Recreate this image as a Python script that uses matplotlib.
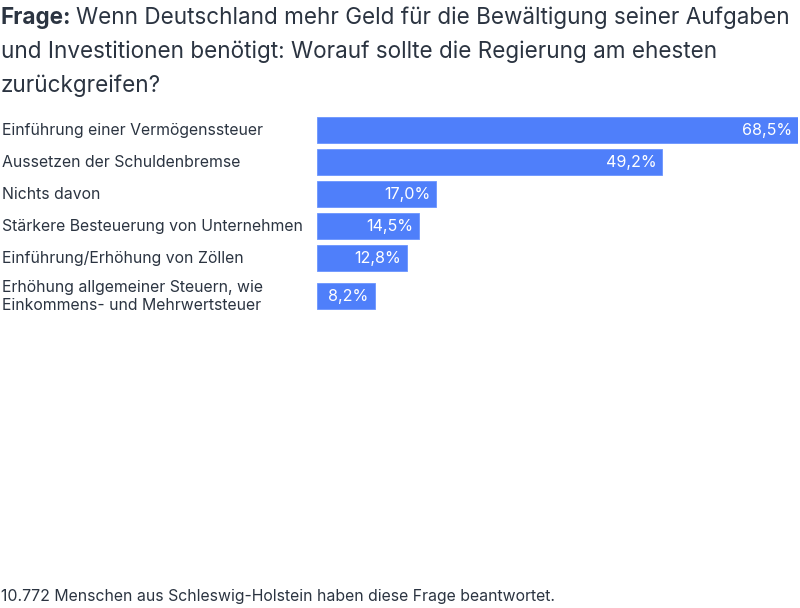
import matplotlib
matplotlib.use("Agg")
import matplotlib.pyplot as plt
from matplotlib.transforms import blended_transform_factory

plt.rcParams['font.family'] = ['Inter', 'DejaVu Sans']

categories = [
    "Einführung einer Vermögenssteuer",
    "Aussetzen der Schuldenbremse",
    "Nichts davon",
    "Stärkere Besteuerung von Unternehmen",
    "Einführung/Erhöhung von Zöllen",
    "Erhöhung allgemeiner Steuern, wie\nEinkommens- und Mehrwertsteuer",
]
values = [68.5, 49.2, 17.0, 14.5, 12.8, 8.2]
value_labels = ["68,5%", "49,2%", "17,0%", "14,5%", "12,8%", "8,2%"]

title_bold = "Frage:"
title_lines = [
    "Wenn Deutschland mehr Geld für die Bewältigung seiner Aufgaben",
    "und Investitionen benötigt: Worauf sollte die Regierung am ehesten",
    "zurückgreifen?",
]
footer = "10.772 Menschen aus Schleswig-Holstein haben diese Frage beantwortet."

W, H = 800, 608
text_col = "#2b3441"
bar_col = "#4f7ffa"

fig = plt.figure(figsize=(W / 100, H / 100), dpi=100)
fig.patch.set_facecolor("white")

# axes laid out in pixel units (y grows downward)
ax_top, ax_bot = 110, 320
ax = fig.add_axes([317 / W, 1 - ax_bot / H, (798 - 317) / W, (ax_bot - ax_top) / H])
ax.set_xlim(0, max(values))
ax.set_ylim(ax_bot, ax_top)
ax.axis("off")

# row centres: 32px pitch, extra room for two-line labels
centres = []
y = ax_top + 4
for cat in categories:
    n = cat.count("\n") + 1
    h = 32 + 12 * (n - 1)
    centres.append(y + h / 2)
    y += h

ax.barh(centres, values, height=26, color=bar_col, edgecolor="#6b95ff", linewidth=0.6)

px = (798 - 317) / max(values)  # px per data unit
for c, v, lab in zip(centres, values, value_labels):
    ax.text(v - 6 / px, c, lab, ha="right", va="center", color="white", fontsize=11.6)

lab_tr = blended_transform_factory(fig.transFigure, ax.transData)
for c, cat in zip(centres, categories):
    ax.text(2 / W, c + 0.5, cat, transform=lab_tr, ha="left", va="center",
            color=text_col, fontsize=11.4, linespacing=1.32)

# title
fig.canvas.draw()
r = fig.canvas.get_renderer()
tfs = 16.2
tb = fig.text(1 / W, 1 - 18 / H, title_bold, fontsize=tfs, fontweight="bold",
              color=text_col, va="center", ha="left")
bb = tb.get_window_extent(r)
fig.text((bb.x1 + 5) / W, 1 - 18 / H, title_lines[0], fontsize=tfs,
         color=text_col, va="center", ha="left")
for i, line in enumerate(title_lines[1:], start=1):
    fig.text(1 / W, 1 - (18 + 34 * i) / H, line, fontsize=tfs,
             color=text_col, va="center", ha="left")

fig.text(1 / W, 1 - 597 / H, footer, fontsize=11.4, color=text_col,
         va="center", ha="left")

fig.savefig("out.png", dpi=100)
